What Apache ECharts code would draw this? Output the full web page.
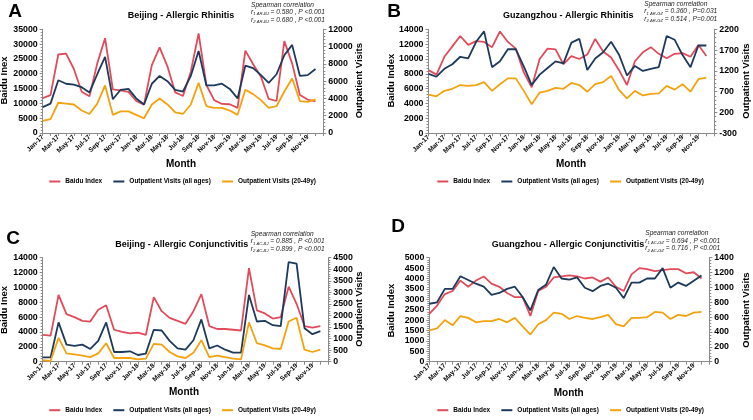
<!DOCTYPE html>
<html><head><meta charset="utf-8">
<script src="https://cdn.jsdelivr.net/npm/echarts@6/dist/echarts.min.js"></script>
<style>html,body{margin:0;padding:0;background:#fff}#c{width:753px;height:420px}</style>
</head><body><div id="c"></div>
<script>
// ---------- data ----------
const months = ['Jan-17','Feb-17','Mar-17','Apr-17','May-17','Jun-17','Jul-17','Aug-17','Sep-17','Oct-17','Nov-17','Dec-17',
  'Jan-18','Feb-18','Mar-18','Apr-18','May-18','Jun-18','Jul-18','Aug-18','Sep-18','Oct-18','Nov-18','Dec-18',
  'Jan-19','Feb-19','Mar-19','Apr-19','May-19','Jun-19','Jul-19','Aug-19','Sep-19','Oct-19','Nov-19','Dec-19'];
const seriesNames = ['Baidu Index','Outpatient Visits (all ages)','Outpatient Visits (20-49y)'];

// A: Beijing - Allergic Rhinitis
const baiduA = [11800,12800,26500,26800,21600,13900,12400,23500,32000,14700,14400,13900,10800,9600,22900,28900,22500,13700,12500,20700,33600,16200,11100,9800,9700,8500,27800,23200,19000,11500,10800,31000,23500,12800,11300,10700];
const allA   = [3000,3400,6100,5700,5600,5300,4700,6800,8800,3900,5000,5100,4000,3300,5700,6600,6000,5000,4800,6600,9500,5500,5500,5700,5100,4000,7800,7500,6700,5800,6800,9000,10200,6600,6700,7400];
const youngA = [1400,1600,3500,3400,3300,2600,2200,3400,5500,2100,2500,2500,2100,1700,3300,4000,3300,2400,2200,3300,5800,3100,2900,2900,2600,2100,5000,4500,3800,2900,3100,4800,6300,3700,3600,3900];

// B: Guangzhou - Allergic Rhinitis
const baiduB = [8500,7900,10300,11700,13100,11900,12400,12300,11600,13700,12300,11400,8200,6200,10000,11400,11300,9300,10400,10000,10600,12700,11000,10200,8500,6500,9700,10900,11600,10700,10100,10700,10800,10300,11900,10400];
const allB   = [1130,1060,1250,1360,1540,1500,1900,2150,1290,1430,1720,1720,1310,860,1110,1270,1430,1380,1880,1970,1220,1500,1650,1900,1590,1090,1320,1200,1250,1290,2040,1950,1580,1290,1810,1810];
const youngB = [630,590,720,770,860,840,860,930,720,880,1020,1020,720,400,680,720,790,770,910,860,700,880,930,1080,740,540,720,610,650,660,840,750,880,700,1000,1040];

// C: Beijing - Allergic Conjunctivitis
const baiduC = [3600,3500,9000,6400,6000,5500,5400,7000,7600,4300,4000,3800,3900,3600,8700,6800,5900,5500,5100,6800,9100,4800,4400,4400,4300,4200,12600,6900,6500,5800,6000,10100,7800,4800,4600,4800];
const allC   = [190,190,1700,740,680,740,550,900,1700,420,420,450,290,350,1380,1350,900,580,520,930,1830,580,700,520,390,390,2890,1740,1770,1580,1540,4310,4240,1450,1190,1320];
const youngC = [70,40,1030,360,320,260,200,360,800,160,160,160,100,130,770,740,420,230,160,390,930,200,260,200,130,100,1700,800,710,580,550,1740,1900,520,420,520];

// D: Guangzhou - Allergic Conjunctivitis
const baiduD = [2300,2700,3250,3400,3900,3600,3900,4100,3750,3600,3300,3100,3100,2200,3400,3600,4050,4100,4150,4100,4000,4050,3850,4050,3600,3400,4200,4500,4450,4350,4400,4450,4450,4250,4300,4000];
const allD   = [780,800,980,980,1150,1100,1050,1010,900,925,980,1010,870,690,965,1035,1275,1120,1105,1135,995,950,1020,1050,995,855,1065,1065,1120,1120,1260,995,1065,1020,1090,1160];
const youngD = [420,450,560,490,615,590,530,545,545,575,530,590,475,365,505,560,660,645,575,615,590,575,600,630,505,475,590,590,600,670,660,575,630,615,660,670];

// axis ranges [min, max, interval]
const leftAxisA = [0, 35000, 5000],  rightAxisA = [0, 12000, 2000];
const leftAxisB = [0, 14000, 2000],  rightAxisB = [-300, 2200, 500];
const leftAxisC = [0, 14000, 2000],  rightAxisC = [0, 4500, 500];
const leftAxisD = [0, 5000, 500],    rightAxisD = [0, 1400, 200];

// texts
const titles = ['Beijing - Allergic Rhinitis','Guzangzhou - Allergic Rhinitis','Beijing - Allergic Conjunctivitis','Guangzhou - Allergic Conjunctivitis'];
const letters = ['A','B','C','D'];
const leftNames = ['Baidu Inex','Baidu Index','Baidu Inex','Baidu Index'];
const spearman = [
  [['1 AR-BJ',' = 0.580 , P <0.001'],['2 AR-BJ',' = 0.680 , P <0.001']],
  [['1 AR-GZ',' = 0.360 , P=0.031'],['2 AR-GZ',' = 0.514 , P=0.001']],
  [['1 AC-BJ',' = 0.885 , P <0.001'],['2 AC-BJ',' = 0.899 , P <0.001']],
  [['1 AC-GZ',' = 0.694 , P <0.001'],['2 AC-GZ',' = 0.716 , P <0.001']]
];

// ---------- layout ----------
const FONT = '"Liberation Sans", Arial, sans-serif';
const AX = '#8a8a8a';
const COLORS = ['#E24B5B','#1D3A5C','#F4A30E'];
const panels = [
  {grid:{left:42.7, top:29.3, width:280.6, height:103.7}, data:[baiduA,allA,youngA], la:leftAxisA, ra:rightAxisA,
   title:[181,15.7], letter:[15,12], sp:[251,4.7], month:[181,164], lname:[4.7,80.5], rname:[359.7,80.7], legend:[49.3,182]},
  {grid:{left:428.5, top:29.3, width:285.8, height:104}, data:[baiduB,allB,youngB], la:leftAxisB, ra:rightAxisB,
   title:[568.3,15.7], letter:[394,12], sp:[644.3,4], month:[571,164], lname:[391.5,80.7], rname:[746,81], legend:[437.3,182]},
  {grid:{left:42.7, top:257.7, width:285.6, height:104}, data:[baiduC,allC,youngC], la:leftAxisC, ra:rightAxisC,
   title:[181.7,245], letter:[13,239], sp:[250.7,234], month:[184,392.7], lname:[4.7,310], rname:[359.7,309], legend:[49.3,410.7]},
  {grid:{left:429.3, top:257.7, width:280, height:104}, data:[baiduD,allD,youngD], la:leftAxisD, ra:rightAxisD,
   title:[568,244.3], letter:[398,227], sp:[645.3,233.3], month:[568.7,393.3], lname:[391.5,310.7], rname:[746.3,310], legend:[437.3,410.7]}
];

const axisCats = months.concat(['']);
const grid=[], xAxis=[], yAxis=[], series=[], legend=[], graphic=[];

function yAx(gi, r, pos){
  return {gridIndex:gi, type:'value', position:pos, min:r[0], max:r[1], interval:r[2],
    axisLine:{show:true, lineStyle:{color:AX, width:1}},
    axisTick:{show:true, length:3, lineStyle:{color:AX}},
    minorTick:{show:true, splitNumber:5, length:2, lineStyle:{color:AX}},
    splitLine:{show:false},
    axisLabel:{color:'#000', fontWeight:'bold', fontSize:8.8, fontFamily:FONT, margin:5,
      formatter:(v)=>String(v)}};
}
function txt(x,y,text,font,extra){
  return Object.assign({type:'text', x:x, y:y, silent:true,
    style:{text:text, font:font, fill:'#000', align:'center', verticalAlign:'middle'}}, extra||{});
}

panels.forEach((p,i)=>{
  grid.push(Object.assign({containLabel:false}, p.grid));
  xAxis.push({gridIndex:i, type:'category', data:axisCats, boundaryGap:false,
    axisLine:{show:true, lineStyle:{color:AX}},
    axisTick:{show:true, interval:0, length:3, lineStyle:{color:AX}},
    axisLabel:{interval:1, rotate:45, color:'#000', fontWeight:'bold', fontSize:6.6, fontFamily:FONT, margin:3},
    splitLine:{show:false}});
  yAxis.push(yAx(i, p.la, 'left'));
  yAxis.push(yAx(i, p.ra, 'right'));
  p.data.forEach((d,k)=>{
    series.push({type:'line', name:seriesNames[k], xAxisIndex:i, yAxisIndex: k===0 ? 2*i : 2*i+1,
      data:d, symbol:'none', smooth:false, animation:false,
      lineStyle:{color:COLORS[k], width:1.8}, itemStyle:{color:COLORS[k]}});
  });
  legend.push({left:p.legend[0], top:p.legend[1]-4, padding:0, data:seriesNames, icon:'rect', itemWidth:11, itemHeight:2,
    itemGap:11.2, selectedMode:false,
    textStyle:{fontSize:6.5, fontWeight:'bold', color:'#000', fontFamily:FONT}});
  // texts
  graphic.push(txt(p.title[0], p.title[1], titles[i], 'bold 9px '+FONT));
  graphic.push(txt(p.letter[0], p.letter[1], letters[i], 'bold 19px '+FONT));
  graphic.push(txt(p.month[0], p.month[1], 'Month', 'bold 10px '+FONT));
  graphic.push(txt(p.lname[0], p.lname[1], leftNames[i], 'bold 9.5px '+FONT, {rotation:Math.PI/2}));
  graphic.push(txt(p.rname[0], p.rname[1], 'Outpatient Visits', 'bold 9.5px '+FONT, {rotation:Math.PI/2}));
  graphic.push({type:'text', x:p.sp[0], y:p.sp[1], silent:true,
    style:{text:'Spearman correlation', font:'italic 6.6px '+FONT, fill:'#222', align:'left', verticalAlign:'middle'}});
  spearman[i].forEach((ln,j)=>{
    graphic.push({type:'text', x:p.sp[0], y:p.sp[1]+7.6*(j+1), silent:true,
      style:{text:'{r|r}{s|'+ln[0]+'}{r|'+ln[1]+'}', align:'left', verticalAlign:'middle',
        rich:{r:{font:'italic 6.6px '+FONT, fill:'#222', lineHeight:8, verticalAlign:'middle'},
              s:{font:'italic 4.2px '+FONT, fill:'#222', lineHeight:8, verticalAlign:'bottom'}}}});
  });
});

const chart = echarts.init(document.getElementById('c'), null, {renderer:'canvas'});
chart.setOption({animation:false, backgroundColor:'#fff', grid, xAxis, yAxis, series, legend, graphic});
</script></body></html>
